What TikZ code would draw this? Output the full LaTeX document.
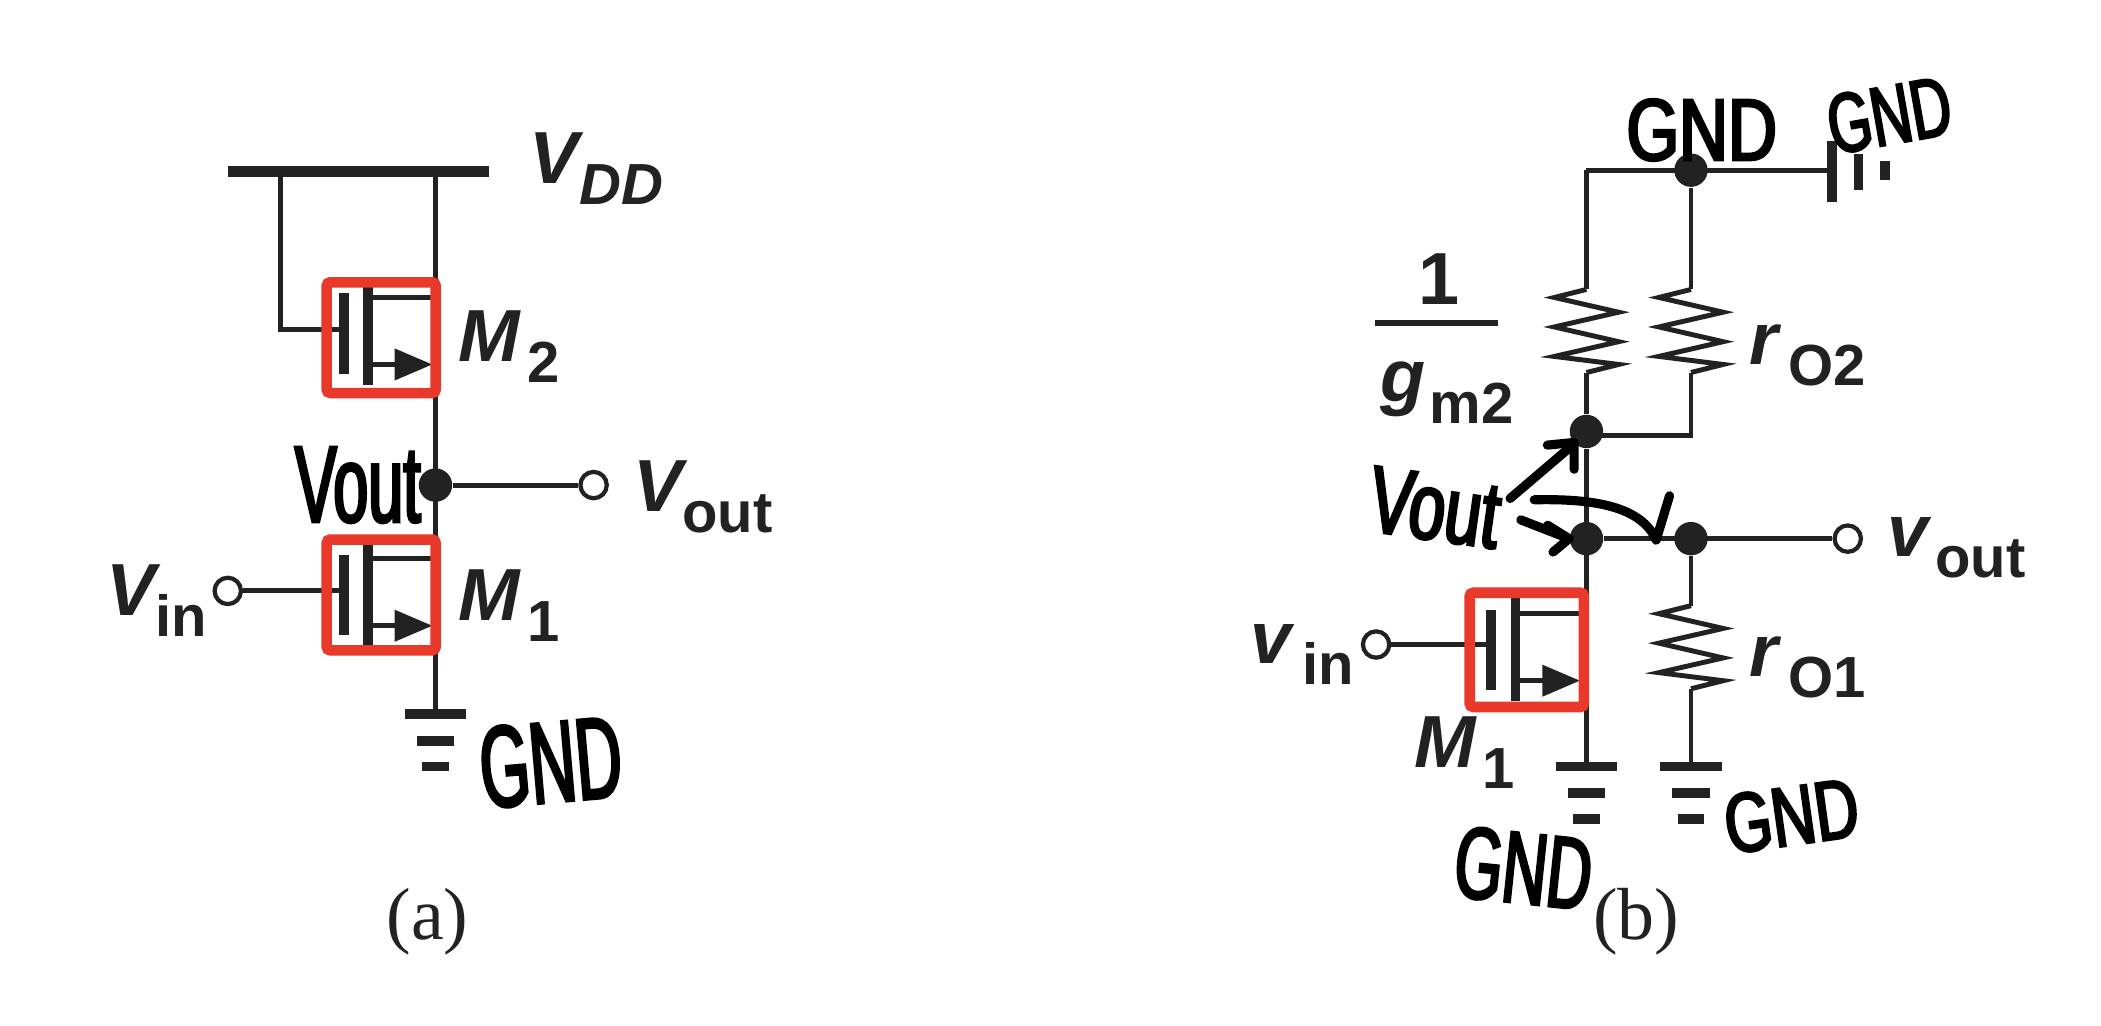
\documentclass[tikz,border=0pt]{standalone}
\usepackage{fontspec}
\setmainfont{Liberation Sans}
\newfontfamily\capfont{Liberation Serif}
\newfontfamily\handfont[FakeBold=2.4,FakeStretch=0.55]{Liberation Sans}
\newcommand{\biglbl}[2]{{\fontsize{21}{21}\selectfont\bfseries\itshape #1}\raisebox{-6pt}{\fontsize{16.5}{16.5}\selectfont\bfseries #2}}
\newcommand{\handlbl}[3]{\scalebox{#2}[1]{\handfont\fontsize{#1}{#1}\selectfont #3}}
\definecolor{boxred}{HTML}{E8392A}
\definecolor{inkblack}{HTML}{222222}
\tikzset{
wire/.style={draw=inkblack,line width=1.4pt},
plate/.style={draw=inkblack,line width=2.8pt},
dot/.style={circle,fill=inkblack,inner sep=0pt,minimum size=9.5pt},
term/.style={circle,draw=inkblack,fill=white,line width=1.2pt,inner sep=0pt,minimum size=7.5pt},
redbox/.style={draw=boxred,line width=3pt,rounded corners=1pt,inner sep=0pt,minimum width=31pt,minimum height=31.5pt},
lbl/.style={anchor=base west,text=inkblack,inner sep=0pt},
hand/.style={text=black,inner sep=0pt},
pen/.style={draw=black,line width=2.6pt,line cap=round,line join=round},
caption/.style={font=\capfont\fontsize{21}{21}\selectfont,text=inkblack,inner sep=0pt},
mosfet/.pic={
\draw[plate](-28,-33)--(-28,27);
\draw[plate](-10,-45)--(-10,35);
\draw[wire](-10,-30)--(40,-30);
\draw[wire](-10,20)--(24,20);
\fill[inkblack](10,8)--(38,20)--(10,32)--cycle;
},
resistor/.pic={
\draw[wire,line join=miter](0,0)--(-24,6)--(24,17)--(-24,28)--(24,39)--(-24,50)--(24,56)--(0,62);
},
groundbars/.pic={
\draw[plate](-23,0)--(23,0);
\draw[plate](-14,20)--(14,20);
\draw[plate](-10,39)--(10,39);
}
}
\begin{document}
\begin{tikzpicture}[x=0.0134cm,y=-0.0134cm]
\useasboundingbox(0,0) rectangle (1568,765.7);
% circuit (a)
\coordinate (barL) at (170,128);
\coordinate (barR) at (365,128);
\coordinate (tapL) at (209,128);
\coordinate (tapR) at (325,128);
\coordinate (gateTwo) at (256,246);
\coordinate (gateOne) at (256,441);
\coordinate (gndA) at (325,533);
\node[dot] (outA) at (325,362) {};
\node[term] (voA) at (443,362) {};
\node[term] (viA) at (170,441) {};
\draw[plate,line width=3pt](barL)--(barR);
\draw[wire](tapR)--(gndA);
\draw[wire](tapL)|-(gateTwo);
\draw[wire](outA)--(voA);
\draw[wire](viA)--(gateOne);
\pic at (284.5,252){mosfet};
\pic at (284.5,447){mosfet};
\pic at (325,533){groundbars};
\node[redbox] (boxTwo) at (284.5,252) {};
\node[redbox] (boxOne) at (284.5,444) {};
\node[lbl] (vdd) at (395,137) {\biglbl{V}{\itshape DD}};
\node[lbl] (mTwo) at (342,270) {\biglbl{M}{\kern2pt 2}};
\node[lbl] (mOne) at (342,463) {\biglbl{M}{\kern2pt 1}};
\node[lbl] (voutA) at (472,382) {\biglbl{V}{out}};
\node[lbl] (vinA) at (79,459) {\biglbl{V}{in}};
\node[hand] (handOutA) at (267,362) {\handlbl{31}{1.05}{Vout}};
\node[hand,rotate=5] (handGndA) at (411,569) {\handlbl{33}{1}{GND}};
\node[caption] (capA) at (319,688) {(a)};
% circuit (b)
\coordinate (topL) at (1184,127);
\coordinate (topR) at (1365,127);
\coordinate (resL) at (1184,216);
\coordinate (resR) at (1262,216);
\coordinate (resLb) at (1184,278);
\coordinate (resRb) at (1262,278);
\coordinate (tie) at (1262,325);
\coordinate (resOt) at (1262,452);
\coordinate (resOb) at (1262,514);
\coordinate (gndL) at (1184,572);
\coordinate (gndR) at (1262,572);
\coordinate (gateB) at (1113,481);
\node[dot] (topDot) at (1262,127) {};
\node[dot] (midDot) at (1184,322) {};
\node[dot] (lowDot) at (1184,402) {};
\node[dot] (outDot) at (1262,402) {};
\node[term] (voB) at (1379,402) {};
\node[term] (viB) at (1027,481) {};
\draw[wire](topL)--(topR);
\draw[wire](topL)--(resL);
\draw[wire](topDot)--(resR);
\draw[wire](resLb)--(midDot);
\draw[wire](resRb)--(tie)--(1184,325);
\draw[wire](midDot)--(gndL);
\draw[wire](lowDot)--(voB);
\draw[wire](outDot)--(resOt);
\draw[wire](resOb)--(gndR);
\draw[wire](viB)--(gateB);
\pic at (resL){resistor};
\pic at (resR){resistor};
\pic at (resOt){resistor};
\pic at (gndL){groundbars};
\pic at (gndR){groundbars};
\draw[plate](1367,105)--(1367,151);
\draw[plate](1387,115)--(1387,142);
\draw[plate](1407,120)--(1407,134);
\pic at (1141,488){mosfet};
\node[redbox,minimum width=32.5pt,minimum height=32.5pt] (boxB) at (1139.5,485) {};
\draw[wire,line width=1.7pt] (1026,241)--(1118,241);
\node[lbl] (one) at (1058,227) {\fontsize{21}{21}\selectfont\bfseries 1};
\node[lbl] (gm) at (1030,300) {\biglbl{g}{\kern1pt m2}};
\node[lbl] (rtwo) at (1305,272) {\biglbl{r}{\kern3pt O2}};
\node[lbl] (rone) at (1305,505) {\biglbl{r}{\kern3pt O1}};
\node[lbl] (voutB) at (1408,415) {\biglbl{v}{\kern2pt out}};
\node[lbl] (vinB) at (933,495) {\biglbl{v}{\kern3pt in}};
\node[lbl] (mB) at (1055,573) {\biglbl{M}{\kern2pt 1}};
\node[hand] (handGndT) at (1270,97) {\handlbl{25}{1.4}{GND}};
\node[hand,rotate=10] (handGndR) at (1410,86) {\handlbl{24}{1.2}{GND}};
\node[hand,rotate=-8] (handOutB) at (1071,379) {\handlbl{27}{1.25}{Vout}};
\node[hand,rotate=-6] (handGndB) at (1137,648) {\handlbl{29}{1.1}{GND}};
\node[hand,rotate=8] (handGndO) at (1337,609) {\handlbl{24}{1.3}{GND}};
\coordinate (penA) at (1127,372);
\coordinate (penB) at (1135,388);
\coordinate (penC) at (1145,373);
\draw[pen](penA)--(midDot.south west);
\draw[pen](midDot.south west)++(-20,1)--++(20,-2)--++(0,20);
\draw[pen](penB)--(lowDot.west);
\draw[pen](lowDot.west)++(-16,-10)--++(16,10)--++(-12,10);
\draw[pen](penC) .. controls (1190,372) and (1225,378) .. (1236,403);
\draw[pen](1236,403)--(1246,370);
\node[caption] (capB) at (1221,688) {(b)};
\end{tikzpicture}
\end{document}
